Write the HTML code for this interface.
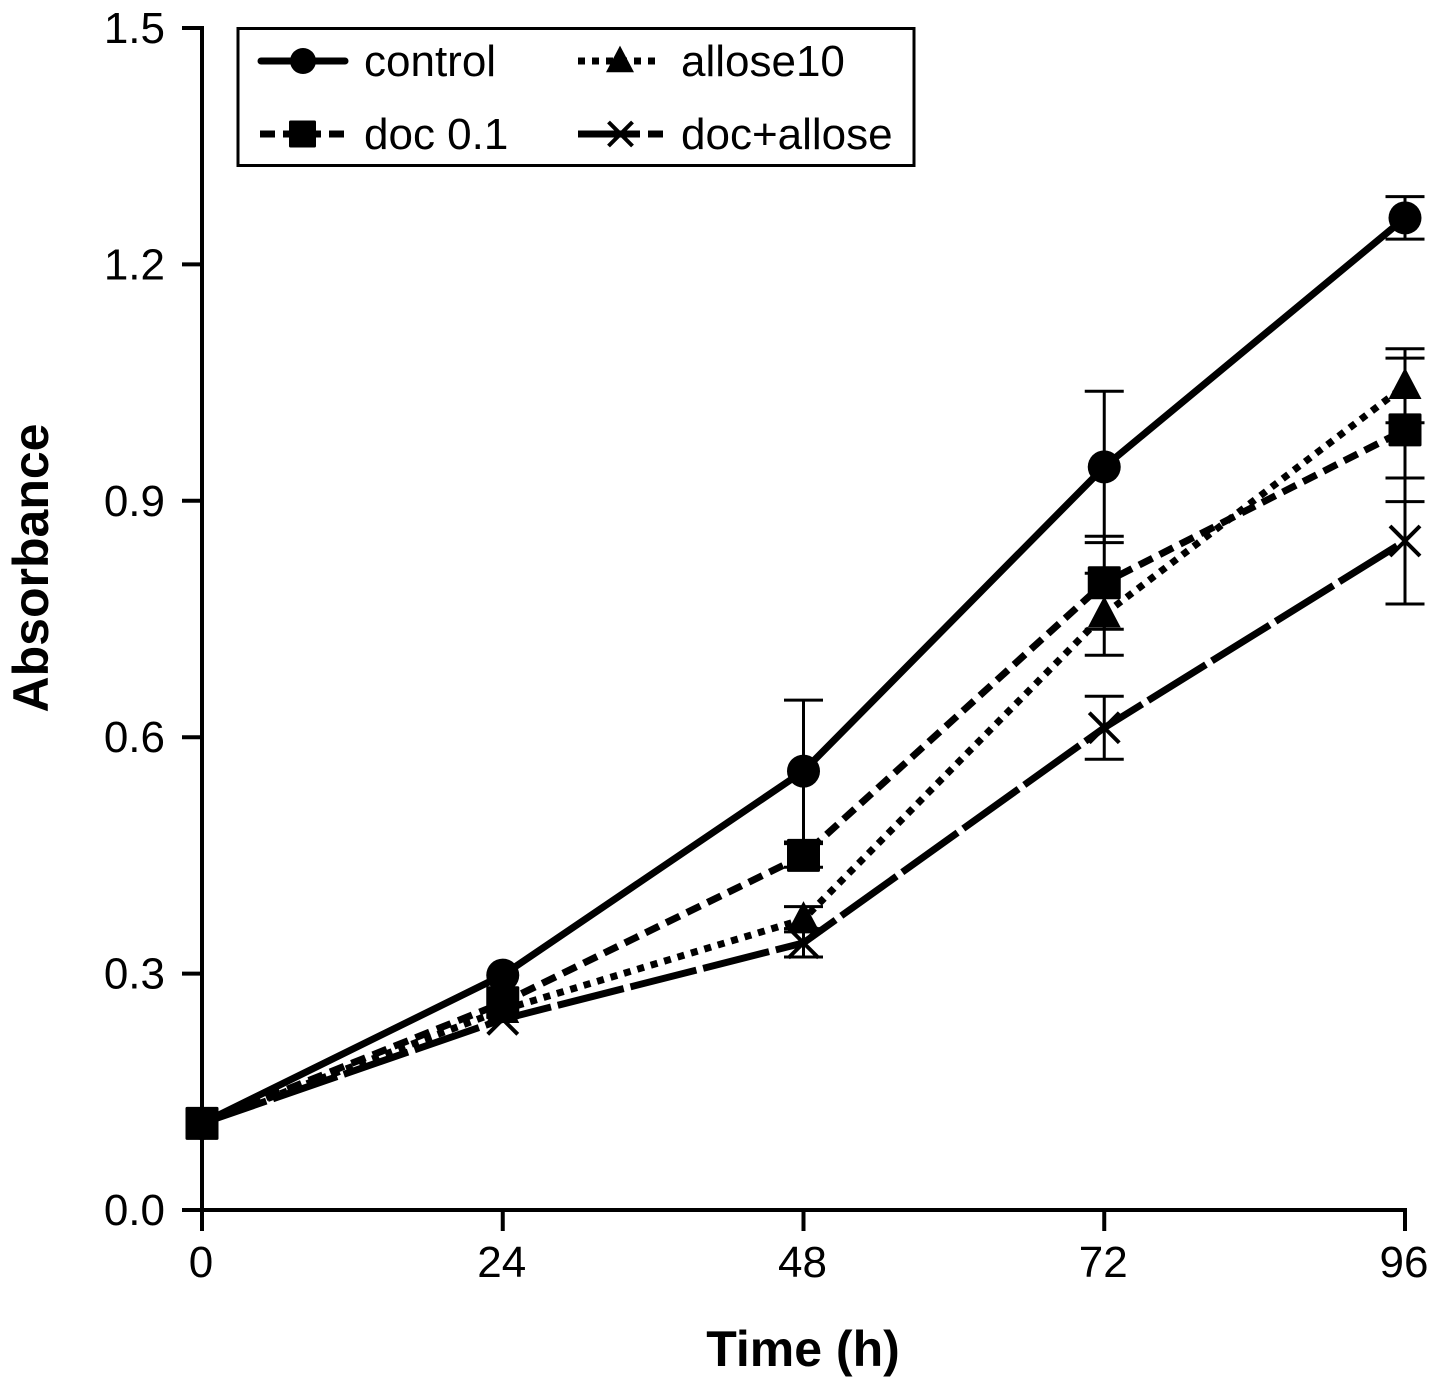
<!DOCTYPE html>
<html lang="en">
<head>
<meta charset="utf-8">
<title>Absorbance over time</title>
<style>
html,body{margin:0;padding:0;background:#fff;}
#chart{display:block;width:1441px;height:1388px;font-family:"Liberation Sans",Arial,sans-serif;fill:#000;}
</style>
</head>
<body>
<svg id="chart" xmlns="http://www.w3.org/2000/svg" width="1441" height="1388" viewBox="0 0 1441 1388">
  <rect x="0" y="0" width="1441" height="1388" fill="#fff"/>
  <g id="axes"></g>
  <g id="series"></g>
  <text x="803" y="1366" text-anchor="middle" font-size="50" font-weight="bold">Time (h)</text>
  <text transform="translate(48,568) rotate(-90)" text-anchor="middle" font-size="50" font-weight="bold">Absorbance</text>
  <g id="legend">
    <rect x="238" y="28.5" width="676" height="137" fill="#fff" stroke="#000" stroke-width="3"/>
    <text x="364" y="76" font-size="44">control</text>
    <text x="681" y="76" font-size="44">allose10</text>
    <text x="364" y="149" font-size="44">doc 0.1</text>
    <text x="681" y="149" font-size="44">doc+allose</text>
  </g>
</svg>
<script>
const times = [0, 24, 48, 72, 96];
const xTickLabels = ["0", "24", "48", "72", "96"];
const yTicks = [0, 0.3, 0.6, 0.9, 1.2, 1.5];
const yTickLabels = ["0.0", "0.3", "0.6", "0.9", "1.2", "1.5"];

const controlValues = [0.11, 0.298, 0.557, 0.943, 1.259];
const controlErrors = [0, 0, 0.09, 0.096, 0.027];
const docValues = [0.11, 0.263, 0.45, 0.796, 0.99];
const docErrors = [0, 0, 0.015, 0.059, 0.091];
const alloseValues = [0.11, 0.254, 0.369, 0.756, 1.046];
const alloseErrors = [0, 0, 0.016, 0.052, 0.047];
const docAlloseValues = [0.11, 0.242, 0.339, 0.612, 0.849];
const docAlloseErrors = [0, 0, 0.018, 0.04, 0.08];

const svgNS = "http://www.w3.org/2000/svg";
const xScale = function (t) { return 202 + (t / 96) * 1203; };
const yScale = function (v) { return 1210 - (v / 1.5) * 1182; };

function make(parent, tag, attrs) {
  const el = document.createElementNS(svgNS, tag);
  for (const k in attrs) { el.setAttribute(k, attrs[k]); }
  parent.appendChild(el);
  return el;
}

const axes = document.getElementById("axes");
const seriesGroup = document.getElementById("series");
const legend = document.getElementById("legend");

const yAxisLine = make(axes, "line", { x1: 202, y1: yScale(1.5) - 2, x2: 202, y2: 1231, stroke: "#000", "stroke-width": 4 });


const xAxisLine = make(axes, "line", { x1: 182, y1: 1210, x2: 1407, y2: 1210, stroke: "#000", "stroke-width": 4 });



yTicks.forEach(function (v, i) {
  const y = yScale(v);
  const tick = make(axes, "line", { x1: 182, y1: y, x2: 202, y2: y, stroke: "#000", "stroke-width": 4 });
  
  
  const label = make(axes, "text", { x: 165, y: y + 15, "text-anchor": "end", "font-size": 44 });
  label.textContent = yTickLabels[i];
  
  
});

times.forEach(function (t, i) {
  const x = xScale(t);
  const tick = make(axes, "line", { x1: x, y1: 1210, x2: x, y2: 1231, stroke: "#000", "stroke-width": 4 });
  
  
  const label = make(axes, "text", { x: x - 1, y: 1277, "text-anchor": "middle", "font-size": 44 });
  label.textContent = xTickLabels[i];
  
  
});

function drawMarker(parent, kind, x, y, size) {
  const r = size / 2;
  let el;
  if (kind === "circle") {
    el = make(parent, "circle", { cx: x, cy: y, r: r, fill: "#000" });
  } else if (kind === "square") {
    el = make(parent, "rect", { x: x - r, y: y - r, width: size, height: size, rx: 1.5, fill: "#000" });
  } else if (kind === "triangle") {
    const pts = (x - r) + "," + (y + r * 0.8) + " " + (x + r) + "," + (y + r * 0.8) + " " + x + "," + (y - r * 1.1);
    el = make(parent, "polygon", { points: pts, fill: "#000" });
  } else {
    const d = "M" + (x - r) + " " + (y - r) + "L" + (x + r) + " " + (y + r) + "M" + (x - r) + " " + (y + r) + "L" + (x + r) + " " + (y - r);
    el = make(parent, "path", { d: d, stroke: "#000", "stroke-width": 4, fill: "none" });
  }
  return el;
}

function drawSeries(name, values, errors, marker, dash) {
  const g = make(seriesGroup, "g", {});
  
  

  values.forEach(function (v, i) {
    if (errors[i] === 0) { return; }
    const x = xScale(times[i]);
    const top = yScale(v + errors[i]);
    const bottom = yScale(v - errors[i]);
    const stem = make(g, "line", { x1: x, y1: top, x2: x, y2: bottom, stroke: "#000", "stroke-width": 3 });
    
    
    [top, bottom].forEach(function (cy) {
      const cap = make(g, "line", { x1: x - 19.5, y1: cy, x2: x + 19.5, y2: cy, stroke: "#000", "stroke-width": 3 });
      
      
    });
  });

  const pts = values.map(function (v, i) { return xScale(times[i]) + "," + yScale(v); }).join(" ");
  const line = make(g, "polyline", { points: pts, fill: "none", stroke: "#000", "stroke-width": 7, "stroke-dasharray": dash, "stroke-linejoin": "miter" });
  
  

  values.forEach(function (v, i) {
    const m = drawMarker(g, marker, xScale(times[i]), yScale(v), marker === "x" ? 30 : 33);
    
    
  });
}

drawSeries("control", controlValues, controlErrors, "circle", "none");
drawSeries("doc-allose", docAlloseValues, docAlloseErrors, "x", "68 7");
drawSeries("allose10", alloseValues, alloseErrors, "triangle", "7 7");
drawSeries("doc", docValues, docErrors, "square", "15 8");

function drawLegendSample(name, x1, x2, y, marker, dash, size) {
  const line = make(legend, "line", { x1: x1, y1: y, x2: x2, y2: y, stroke: "#000", "stroke-width": 7, "stroke-dasharray": dash, "stroke-linecap": dash === "none" ? "round" : "butt" });
  
  
  const m = drawMarker(legend, marker, (x1 + x2) / 2, y, size);
  
  
}

drawLegendSample("control", 261, 345, 61, "circle", "none", 26);
drawLegendSample("allose10", 578, 662, 61, "triangle", "7 7", 28);
drawLegendSample("doc", 260, 345, 134, "square", "15 8", 27);
drawLegendSample("doc-allose", 578, 663, 134, "x", "62 8", 24);
</script>
</body>
</html>
